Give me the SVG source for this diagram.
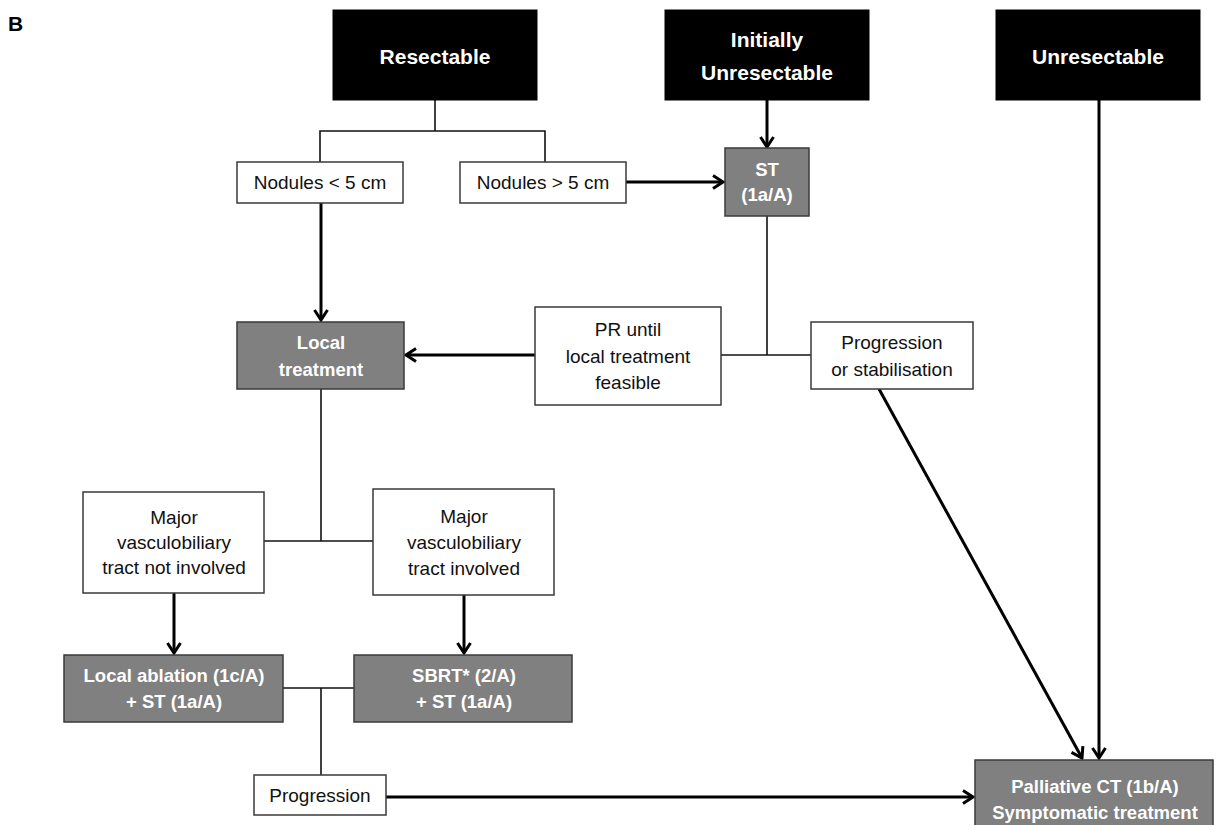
<svg xmlns="http://www.w3.org/2000/svg" width="1218" height="825" viewBox="0 0 1218 825">
<defs>
<marker id="arr" viewBox="0 0 14 16" refX="12" refY="8" markerWidth="14" markerHeight="16" markerUnits="userSpaceOnUse" orient="auto">
<path d="M2,1.5 L12,8 L2,14.5" fill="none" stroke="#000" stroke-width="3"/>
</marker>
<style>
.blk{fill:#000;stroke:#000;stroke-width:1}
.wht{fill:#fff;stroke:#3a3a3a;stroke-width:1.5}
.gry{fill:#808080;stroke:#3a3a3a;stroke-width:1.5}
.tb{font-family:"Liberation Sans",Arial,sans-serif;font-weight:bold;font-size:21px;fill:#fff;text-anchor:middle}
.tg{font-family:"Liberation Sans",Arial,sans-serif;font-weight:bold;font-size:18.5px;fill:#fff;text-anchor:middle}
.tw{font-family:"Liberation Sans",Arial,sans-serif;font-size:19px;fill:#111;text-anchor:middle}
.thin{fill:none;stroke:#111;stroke-width:1.6}
.thick{fill:none;stroke:#000;stroke-width:3;marker-end:url(#arr)}
</style>
</defs>
<rect width="1218" height="825" fill="#fff"/>
<text x="8" y="31" font-family="Liberation Sans,Arial,sans-serif" font-weight="bold" font-size="21" fill="#000">B</text>

<g id="connectors">
<polyline class="thin" points="435,100 435,131"/>
<polyline class="thin" points="320,162 320,131 545,131 545,162"/>
<polyline class="thin" points="767,216 767,355"/>
<polyline class="thin" points="721,355 811,355"/>
<polyline class="thin" points="321,389 321,541"/>
<polyline class="thin" points="264,541 373,541"/>
<polyline class="thin" points="283,688 354,688"/>
<polyline class="thin" points="321,688 321,775"/>
<line class="thick" x1="767" y1="100" x2="767" y2="147"/>
<line class="thick" x1="626" y1="182" x2="723" y2="182"/>
<line class="thick" x1="1099" y1="100" x2="1099" y2="758"/>
<line class="thick" x1="321" y1="203" x2="321" y2="320"/>
<line class="thick" x1="535" y1="355" x2="406" y2="355"/>
<line class="thick" x1="879" y1="389" x2="1082" y2="758"/>
<line class="thick" x1="174" y1="593" x2="174" y2="653"/>
<line class="thick" x1="464" y1="595" x2="464" y2="653"/>
<line class="thick" x1="386" y1="797" x2="973" y2="797"/>
</g>

<g id="resectable"><rect class="blk" x="333" y="10" width="204" height="90"/><text class="tb" x="435" y="64">Resectable</text></g>
<g id="initially-unresectable"><rect class="blk" x="665" y="10" width="204" height="90"/><text class="tb" x="767" y="47">Initially</text><text class="tb" x="767" y="80">Unresectable</text></g>
<g id="unresectable"><rect class="blk" x="996" y="10" width="204" height="90"/><text class="tb" x="1098" y="64">Unresectable</text></g>
<g id="nodules-lt5"><rect class="wht" x="237" y="162" width="166" height="41"/><text class="tw" x="320" y="189">Nodules &lt; 5 cm</text></g>
<g id="nodules-gt5"><rect class="wht" x="460" y="162" width="166" height="41"/><text class="tw" x="543" y="189">Nodules &gt; 5 cm</text></g>
<g id="st"><rect class="gry" x="725" y="148" width="84" height="68"/><text class="tg" x="767" y="176">ST</text><text class="tg" x="767" y="201">(1a/A)</text></g>
<g id="local-treatment"><rect class="gry" x="237" y="322" width="167" height="67"/><text class="tg" x="321" y="349">Local</text><text class="tg" x="321" y="376">treatment</text></g>
<g id="pr-until"><rect class="wht" x="535" y="307" width="186" height="98"/><text class="tw" x="628" y="336">PR until</text><text class="tw" x="628" y="363">local treatment</text><text class="tw" x="628" y="389">feasible</text></g>
<g id="progression-stab"><rect class="wht" x="811" y="322" width="162" height="67"/><text class="tw" x="892" y="349">Progression</text><text class="tw" x="892" y="376">or stabilisation</text></g>
<g id="not-involved"><rect class="wht" x="83" y="492" width="181" height="101"/><text class="tw" x="174" y="524">Major</text><text class="tw" x="174" y="549">vasculobiliary</text><text class="tw" x="174" y="574">tract not involved</text></g>
<g id="involved"><rect class="wht" x="373" y="489" width="181" height="106"/><text class="tw" x="464" y="523">Major</text><text class="tw" x="464" y="549">vasculobiliary</text><text class="tw" x="464" y="575">tract involved</text></g>
<g id="local-ablation"><rect class="gry" x="64" y="655" width="219" height="67"/><text class="tg" x="174" y="682">Local ablation (1c/A)</text><text class="tg" x="174" y="708">+ ST (1a/A)</text></g>
<g id="sbrt"><rect class="gry" x="354" y="655" width="218" height="67"/><text class="tg" x="464" y="682">SBRT* (2/A)</text><text class="tg" x="464" y="708">+ ST (1a/A)</text></g>
<g id="progression"><rect class="wht" x="254" y="775" width="132" height="40"/><text class="tw" x="320" y="802">Progression</text></g>
<g id="palliative"><rect class="gry" x="975" y="760" width="238" height="70"/><text class="tg" x="1095" y="793">Palliative CT (1b/A)</text><text class="tg" x="1095" y="819">Symptomatic treatment</text></g>
</svg>
